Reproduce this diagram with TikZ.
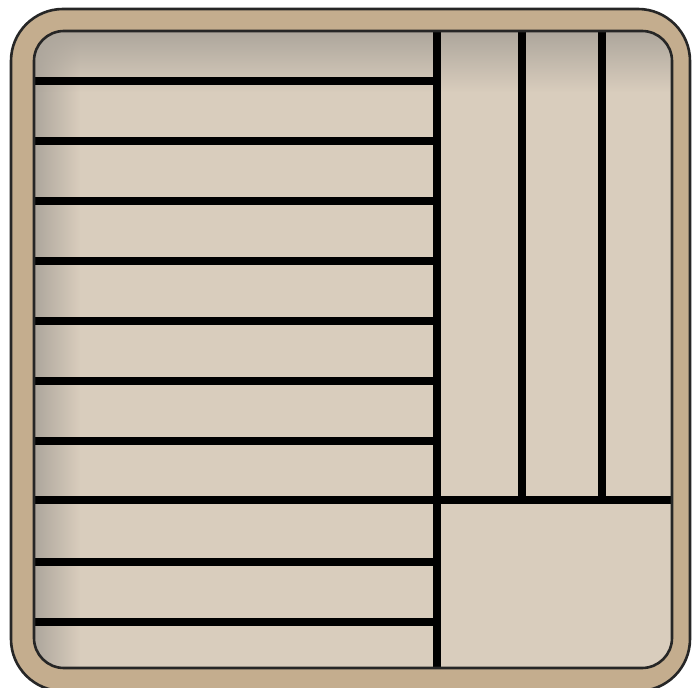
\documentclass[tikz,border=0pt]{standalone}
\usetikzlibrary{fadings}
\definecolor{marco}{HTML}{C4AD8E}
\definecolor{fondo}{HTML}{D9CDBD}
\definecolor{sombra}{HTML}{ADA69C}
\tikzset{
    separador/.style={line width=8pt},
    borde/.style={line width=2.6pt, draw=black!85}
}
\begin{document}
\begin{tikzpicture}[x=1pt,y=-1pt]

    \useasboundingbox[fill=white] (0,0) rectangle (694,688);

    % Marco exterior
    \draw[borde, fill=marco, rounded corners=52pt] (11,9) rectangle (690,691);

    % Fondo interior con sombras
    \fill[fondo, rounded corners=30pt] (34,31) rectangle (672,668);
    \begin{scope}
        \clip[rounded corners=30pt] (34,31) rectangle (672,668);
        \fill[sombra, path fading=east] (34,31) rectangle (80,668);
        \fill[sombra, path fading=south] (34,31) rectangle (672,92);
    \end{scope}

    % Separadores horizontales
    \foreach \y in {80.7, 140.8, 200.9, 261.0, 321.1, 381.2, 441.3, 561.5, 621.6}
        \draw[separador] (34,\y) -- (437,\y);
    \draw[separador] (34,500.4) -- (672,500.4);

    % Separadores verticales
    \draw[separador] (437,31) -- (437,668);
    \foreach \x in {522, 602}
        \draw[separador] (\x,31) -- (\x,500.4);

    % Borde interior
    \draw[borde, rounded corners=30pt] (34,31) rectangle (672,668);

\end{tikzpicture}
\end{document}
